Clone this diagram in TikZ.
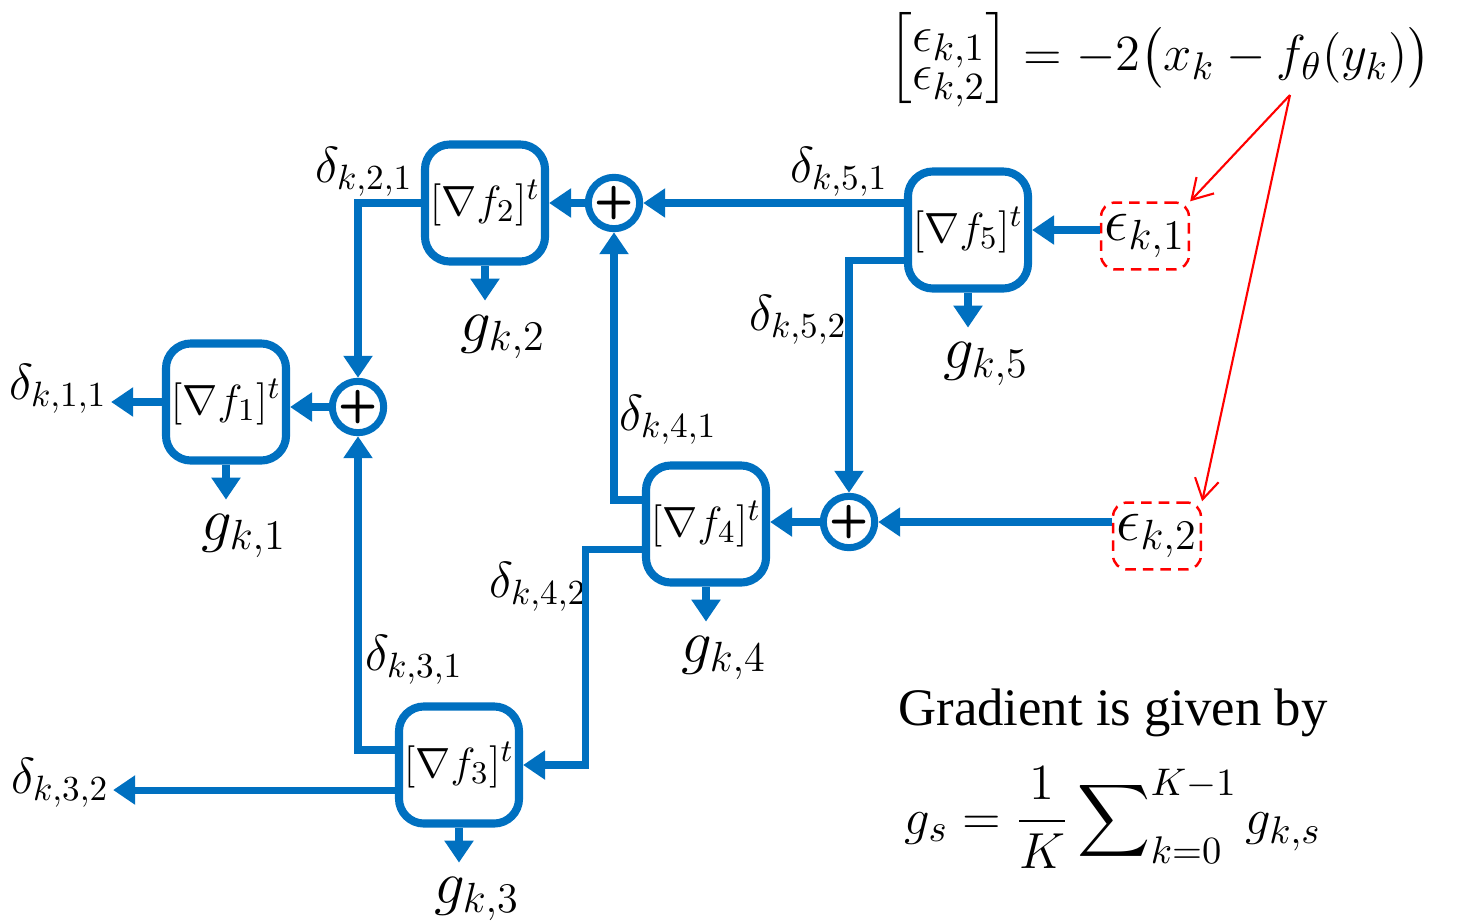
\documentclass[tikz,border=0pt]{standalone}
\usepackage{amsmath}
\usepackage{fontspec}
\usepackage{tikz}
\usetikzlibrary{positioning,arrows.meta}
\newfontfamily\captionserif{Liberation Serif}
\definecolor{flowBlue}{RGB}{0,112,192}

\begin{document}
\begin{tikzpicture}[
    x=0.01cm, y=-0.01cm,
    grad/.style={
        draw=flowBlue, line width=2.3pt, rounded corners=0.25cm, fill=white,
        minimum width=1.2cm, minimum height=1.17cm, inner sep=0pt,
        font=\fontsize{13}{15}\selectfont
    },
    adder/.style={
        circle, draw=flowBlue, line width=2pt, fill=white, minimum size=0.5cm,
        inner sep=0pt, font=\fontsize{13}{13}\selectfont\sffamily\bfseries
    },
    errbox/.style={
        draw=red, dashed, dash pattern=on 3pt off 2pt, line width=0.7pt,
        rounded corners=4pt, inner xsep=1pt, minimum height=0.57cm,
        font=\fontsize{17}{19}\selectfont
    },
    lbl/.style={font=\fontsize{14}{16}\selectfont, inner sep=1pt},
    glbl/.style={font=\fontsize{17}{19}\selectfont, inner sep=4pt},
    arrow/.style={-{Triangle[length=0.22cm, width=0.28cm]}, line width=2pt, draw=flowBlue},
    pointer/.style={-{Straight Barb[length=0.2cm, width=0.24cm]}, line width=0.6pt, draw=red}
]
    \useasboundingbox (0,0) rectangle (1457,924);

    \node[grad] (f1) at (226,402) {$[\nabla f_1]^t$};
    \node[grad] (f2) at (485,203) {$[\nabla f_2]^t$};
    \node[grad] (f3) at (459,765) {$[\nabla f_3]^t$};
    \node[grad] (f4) at (706,524) {$[\nabla f_4]^t$};
    \node[grad] (f5) at (968,230) {$[\nabla f_5]^t$};

    \node[adder] (s1) at (358,407) {+};
    \node[adder] (s2) at (614,203) {+};
    \node[adder] (s3) at (849,522) {+};

    \node[errbox] (e1) at (1145,236) {$\epsilon_{k,1}$};
    \node[errbox] (e2) at (1157,536) {$\epsilon_{k,2}$};

    \node[lbl] (d11) at (58,389) {$\delta_{k,1,1}$};
    \node[lbl] (d21) at (364,172) {$\delta_{k,2,1}$};
    \node[lbl] (d31) at (414,660) {$\delta_{k,3,1}$};
    \node[lbl] (d32) at (60,783) {$\delta_{k,3,2}$};
    \node[lbl] (d41) at (668,420) {$\delta_{k,4,1}$};
    \node[lbl] (d42) at (538,587) {$\delta_{k,4,2}$};
    \node[lbl] (d51) at (839,172) {$\delta_{k,5,1}$};
    \node[lbl] (d52) at (798,320) {$\delta_{k,5,2}$};

    \node[glbl, below=0.35cm of f1, xshift=0.18cm] (g1) {$g_{k,1}$};
    \node[glbl, below=0.35cm of f2, xshift=0.18cm] (g2) {$g_{k,2}$};
    \node[glbl, below=0.35cm of f3, xshift=0.18cm] (g3) {$g_{k,3}$};
    \node[glbl, below=0.35cm of f4, xshift=0.18cm] (g4) {$g_{k,4}$};
    \node[glbl, below=0.35cm of f5, xshift=0.18cm] (g5) {$g_{k,5}$};

    \node[font=\fontsize{15}{18}\selectfont, inner sep=0pt] (epseq) at (1160,58)
        {$\Big[\begin{matrix}\epsilon_{k,1}\\[-7pt] \epsilon_{k,2}\end{matrix}\Big] = -2\bigl(x_k - f_\theta(y_k)\bigr)$};
    \node[font=\fontsize{15}{18}\selectfont] (gradtxt) at (1113,713) {\captionserif Gradient is given by};
    \node[font=\fontsize{15.5}{18}\selectfont] (gradeq) at (1113,818)
        {$\displaystyle g_s = \frac{1}{K}\sum\nolimits_{k=0}^{K-1} g_{k,s}$};
    \coordinate (ftheta) at (1290,95);

    \coordinate (f3low) at ([yshift=-0.25cm]f3.west);

    \draw[arrow] (s1) -- (s1 -| f1.east);
    \draw[arrow] (f1.west) -- (f1.west -| d11.east);
    \draw[arrow] (f2.west) -| (s1);
    \draw[arrow] (s2) -- (f2);
    \draw[arrow] (s2 -| f5.west) -- (s2);
    \draw[arrow] (e1.west |- f5) -- (f5);
    \draw[arrow] ([yshift=-0.3cm]f5.west) -| (s3);
    \draw[arrow] (e2.west |- s3) -- (s3);
    \draw[arrow] (s3) -- (s3 -| f4.east);
    \draw[arrow] ([yshift=0.24cm]f4.west) -| (s2);
    \draw[arrow] ([yshift=-0.25cm]f4.west) -| ([xshift=0.62cm]f3.east) -- (f3.east);
    \draw[arrow] ([yshift=0.15cm]f3.west) -| (s1);
    \draw[arrow] (f3low) -- (f3low -| d32.east);

    \draw[arrow] (f1.south) -- (f1.south |- g1.north);
    \draw[arrow] (f2.south) -- (f2.south |- g2.north);
    \draw[arrow] (f3.south) -- (f3.south |- g3.north);
    \draw[arrow] (f4.south) -- (f4.south |- g4.north);
    \draw[arrow] (f5.south) -- (f5.south |- g5.north);

    \draw[pointer] (ftheta) -- (e1.north east);
    \draw[pointer] (ftheta) -- (e2.north east);
\end{tikzpicture}
\end{document}
